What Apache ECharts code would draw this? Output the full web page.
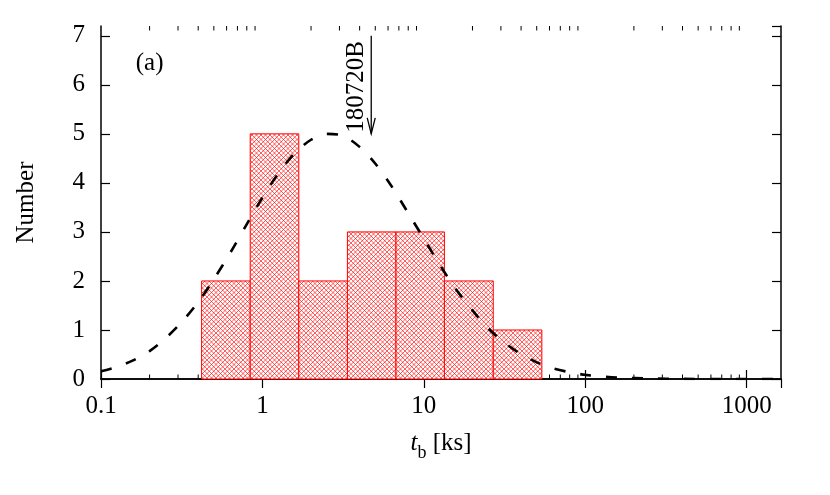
<!DOCTYPE html>
<html><head><meta charset="utf-8">
<script src="https://cdn.jsdelivr.net/npm/echarts@6/dist/echarts.min.js"></script>
<style>html,body{margin:0;padding:0;background:#fff}#c{width:830px;height:495px}</style>
</head><body><div id="c"></div>
<script>
// ---- data ----
const binEdges = [0.42, 0.84, 1.68, 3.36, 6.72, 13.4, 26.9, 53.8];
const binCounts = [2, 5, 2, 3, 3, 2, 1];
const fitX = [0.1, 0.126, 0.158, 0.2, 0.251, 0.316, 0.398, 0.501, 0.631, 0.794,
              1, 1.26, 1.58, 2.0, 2.51, 3.16, 3.98, 5.01, 6.31, 7.94,
              10, 12.6, 15.8, 20, 25.1, 31.6, 39.8, 50.1, 63.1, 79.4,
              100, 158, 251, 398, 631, 1000, 1630];
const fitY = [0.16, 0.25, 0.38, 0.57, 0.83, 1.16, 1.56, 2.04, 2.57, 3.14,
              3.70, 4.20, 4.60, 4.88, 5.00, 4.96, 4.74, 4.39, 3.93, 3.40,
              2.86, 2.32, 1.83, 1.40, 1.03, 0.74, 0.51, 0.34, 0.22, 0.14,
              0.085, 0.03, 0.01, 0.003, 0, 0, 0];
const xTickLabels = [0.1, 1, 10, 100, 1000];
const yTickLabels = [0, 1, 2, 3, 4, 5, 6, 7];
const minorTickValues = [0.2,0.3,0.4,0.5,0.6,0.7,0.8,0.9, 2,3,4,5,6,7,8,9,
                         20,30,40,50,60,70,80,90, 200,300,400,500,600,700,800,900];
const arrowX = 4.72, arrowTop = 7.0, arrowTip = 5.0, arrowLabelY = 5.96;
const grbLabel = '180720B';
const panelLabel = '(a)', panelX = 0.2, panelY = 6.43;
const xMin = 0.1, xMax = 1630, yMin = 0, yMax = 7.2;

const FONT = "'Liberation Serif','DejaVu Serif',serif";

// cross-hatch pattern tile (white background, red diagonal lines)
function hatch() {
  const s = 9, c = document.createElement('canvas');
  c.width = s; c.height = s;
  const g = c.getContext('2d');
  g.fillStyle = '#fff'; g.fillRect(0, 0, s, s);
  g.strokeStyle = 'rgba(255,0,0,0.8)'; g.lineWidth = 0.8;
  for (let k = -2; k <= 2; k++) {
    const o = k * 4.5;
    g.beginPath(); g.moveTo(o - 1, -1); g.lineTo(o + s + 1, s + 1); g.stroke();
  }
  for (let k = 0; k <= 4; k++) {
    const o = k * 4.5;
    g.beginPath(); g.moveTo(o + 1, -1); g.lineTo(o - s - 1, s + 1); g.stroke();
  }
  return c;
}
const hatchFill = { image: hatch(), repeat: 'repeat' };

const isPow10 = v => Math.abs(Math.log10(v) - Math.round(Math.log10(v))) < 1e-6;

const chart = echarts.init(document.getElementById('c'), null, { renderer: 'canvas' });

const axisCommon = {
  axisLine: { show: true, lineStyle: { color: '#000', width: 1.5 } },
  axisTick: { show: true, inside: true, length: 9, lineStyle: { color: '#000', width: 1.2 } },
  splitLine: { show: false },
  minorTick: { show: false }
};

const option = {
  animation: false,
  backgroundColor: '#fff',
  grid: { left: 101, right: 49, top: 26, bottom: 116, containLabel: false },
  xAxis: [
    Object.assign({}, axisCommon, {
      type: 'log', logBase: 10, min: xMin, max: xMax, position: 'bottom', splitNumber: 4,
      axisLabel: { show: true, margin: 15, color: '#000', fontFamily: FONT, fontSize: 25,
        showMaxLabel: false,
        formatter: v => (isPow10(v) && xTickLabels.some(t => Math.abs(t - v) / t < 1e-6)) ? String(v) : '' },
      name: '{i|t}{s|b}{n| [ks]}', nameLocation: 'middle', nameGap: 52,
      nameTextStyle: { color: '#000', fontFamily: FONT, fontSize: 25,
        rich: {
          i: { fontFamily: FONT, fontSize: 25, fontStyle: 'italic', color: '#000', lineHeight: 25, verticalAlign: 'top' },
          s: { fontFamily: FONT, fontSize: 18, color: '#000', lineHeight: 18, verticalAlign: 'top', padding: [13, 0, 0, 0] },
          n: { fontFamily: FONT, fontSize: 25, color: '#000', lineHeight: 25, verticalAlign: 'top' }
        } }
    }),
    Object.assign({}, axisCommon, {
      type: 'log', logBase: 10, min: xMin, max: xMax, position: 'top', splitNumber: 4,
      axisLabel: { show: false }
    })
  ],
  yAxis: [
    Object.assign({}, axisCommon, {
      type: 'value', min: yMin, max: yMax, interval: 1, position: 'left',
      axisLabel: { show: true, margin: 16, color: '#000', fontFamily: FONT, fontSize: 25,
        showMaxLabel: false,
        formatter: v => yTickLabels.includes(v) ? String(v) : '' },
      name: 'Number', nameLocation: 'middle', nameRotate: 90, nameGap: 62,
      nameTextStyle: { color: '#000', fontFamily: FONT, fontSize: 25 }
    }),
    Object.assign({}, axisCommon, {
      type: 'value', min: yMin, max: yMax, interval: 1, position: 'right',
      axisLabel: { show: false }
    })
  ],
  series: [
    {
      // minor ticks on the log axes (bottom and top)
      type: 'custom', z: 1, silent: true,
      data: minorTickValues.map(v => [v, 0]),
      encode: { x: 0, y: 1 },
      renderItem: (params, api) => {
        const v = api.value(0);
        const b = api.coord([v, yMin]), t = api.coord([v, yMax]);
        return { type: 'group', children: [
          { type: 'line', shape: { x1: b[0], y1: b[1], x2: b[0], y2: b[1] - 4.5 }, style: { stroke: '#000', lineWidth: 1 } },
          { type: 'line', shape: { x1: t[0], y1: t[1], x2: t[0], y2: t[1] + 4.5 }, style: { stroke: '#000', lineWidth: 1 } }
        ] };
      }
    },
    {
      // histogram bars
      type: 'custom', z: 2, silent: true,
      data: binCounts.map((c, i) => [binEdges[i], binEdges[i + 1], c]),
      encode: { x: [0, 1], y: 2 },
      renderItem: (params, api) => {
        const p0 = api.coord([api.value(0), 0]);
        const p1 = api.coord([api.value(1), api.value(2)]);
        return { type: 'rect',
          shape: { x: p0[0], y: p1[1], width: p1[0] - p0[0], height: p0[1] - p1[1] },
          style: { fill: hatchFill, stroke: '#ff0000', lineWidth: 1 } };
      }
    },
    {
      // fitted log-normal curve
      type: 'line', z: 3, silent: true,
      data: fitX.map((x, i) => [x, fitY[i]]),
      smooth: 0.3, showSymbol: false, symbol: 'none',
      lineStyle: { color: '#000', width: 2.6, type: [11, 15] }
    },
    {
      // arrow + GRB label
      type: 'custom', z: 4, silent: true,
      data: [[arrowX, arrowTop, arrowTip, arrowLabelY]],
      encode: { x: 0, y: [1, 2] },
      renderItem: (params, api) => {
        const top = api.coord([api.value(0), api.value(1)]);
        const tip = api.coord([api.value(0), api.value(2)]);
        const lab = api.coord([api.value(0), api.value(3)]);
        return { type: 'group', children: [
          { type: 'line', shape: { x1: top[0], y1: top[1], x2: tip[0], y2: tip[1] }, style: { stroke: '#000', lineWidth: 1.3 } },
          { type: 'polyline', shape: { points: [[tip[0] - 4, tip[1] - 16], [tip[0], tip[1]], [tip[0] + 4, tip[1] - 16]] },
            style: { stroke: '#000', lineWidth: 1.3, fill: null } },
          { type: 'text', x: lab[0] - 2, y: lab[1], rotation: Math.PI / 2,
            style: { text: grbLabel, fontFamily: FONT, fontSize: 25, fill: '#000', align: 'center', verticalAlign: 'bottom' } }
        ] };
      }
    },
    {
      // panel label
      type: 'custom', z: 4, silent: true,
      data: [[panelX, panelY]],
      encode: { x: 0, y: 1 },
      renderItem: (params, api) => {
        const p = api.coord([api.value(0), api.value(1)]);
        return { type: 'text', x: p[0], y: p[1],
          style: { text: panelLabel, fontFamily: FONT, fontSize: 25, fill: '#000', align: 'center', verticalAlign: 'middle' } };
      }
    }
  ]
};
chart.setOption(option);
</script>
</body></html>
